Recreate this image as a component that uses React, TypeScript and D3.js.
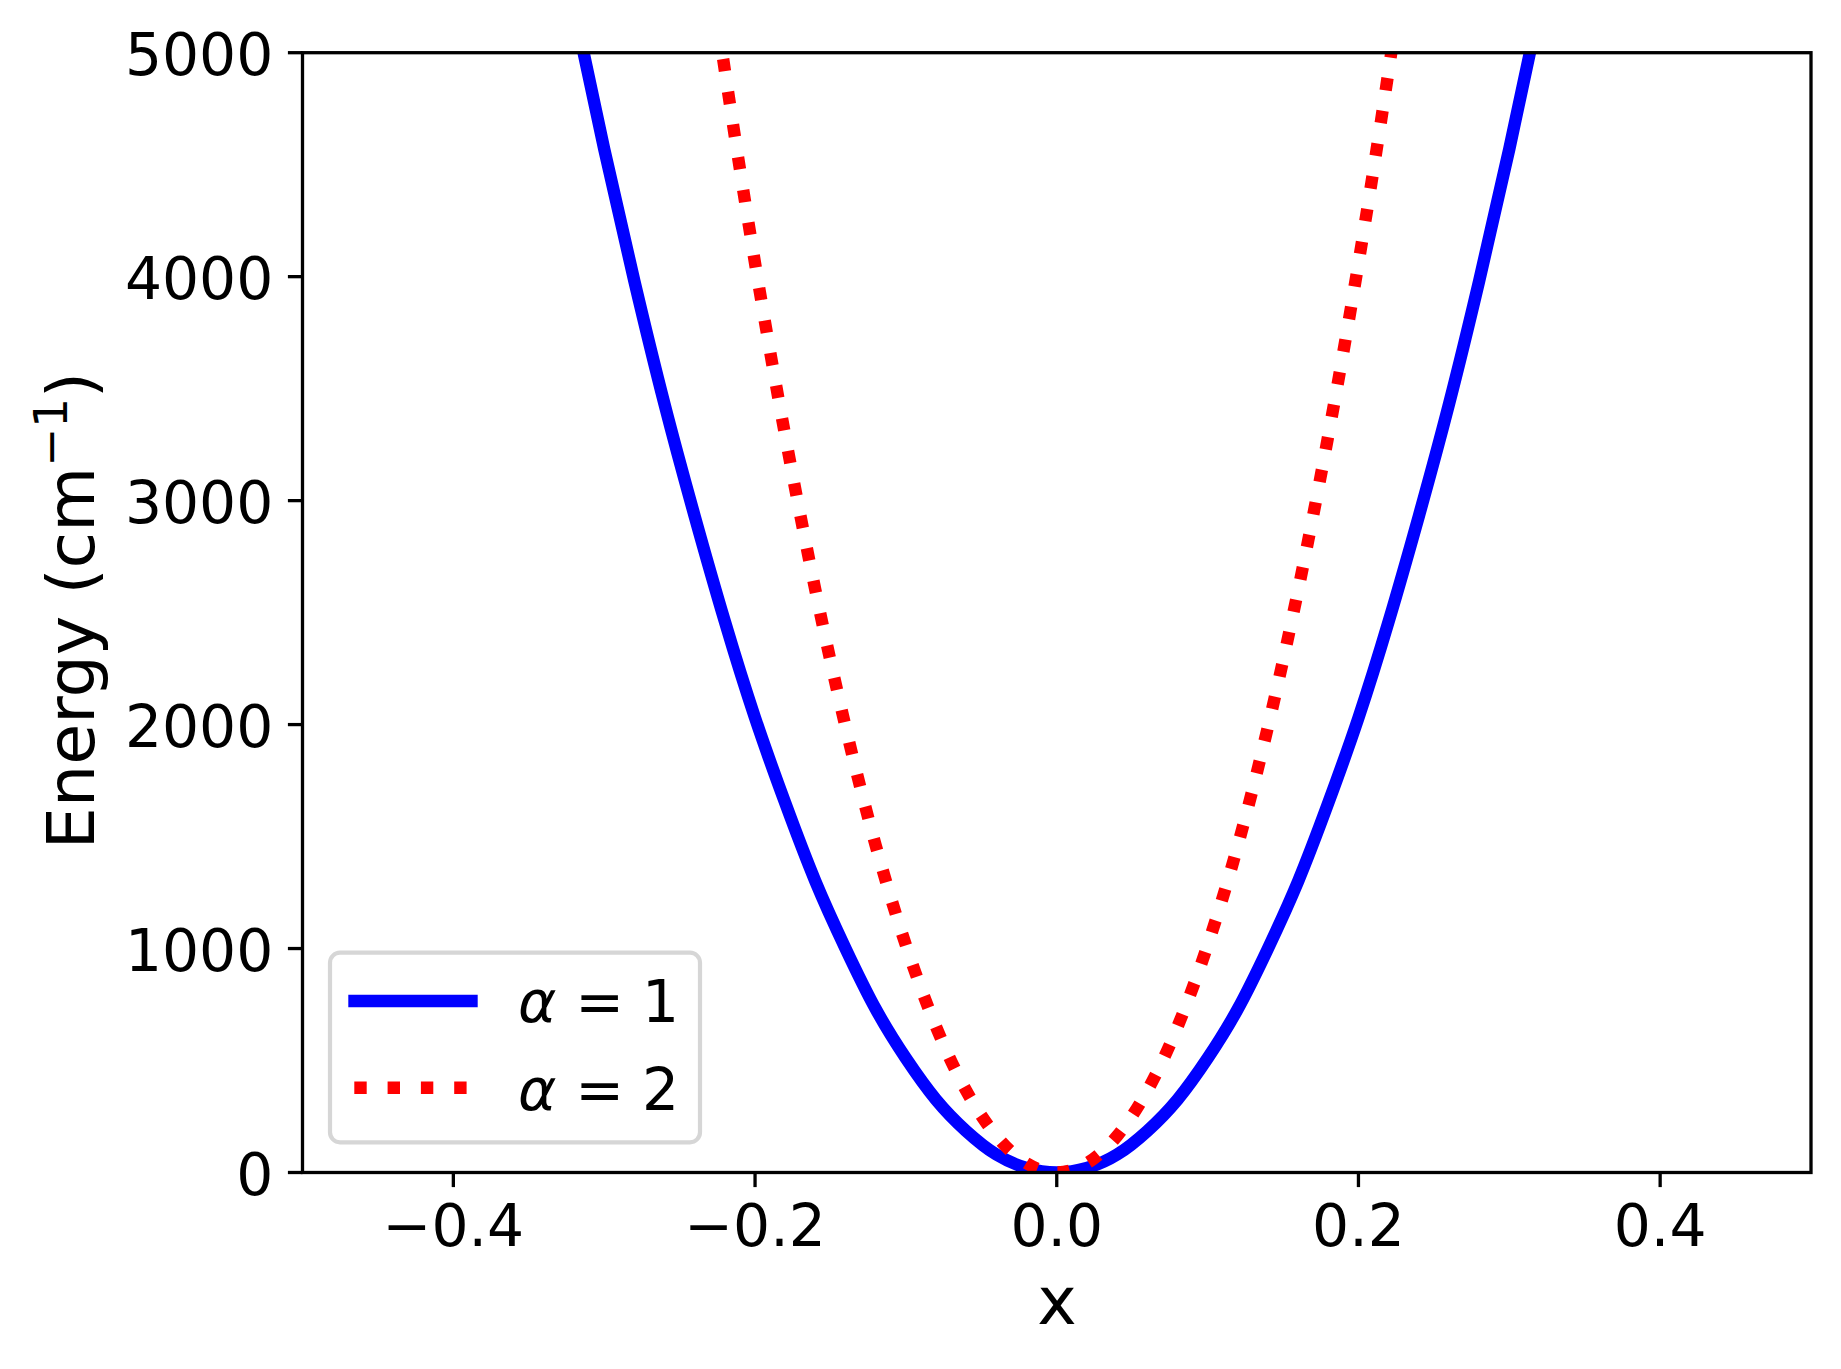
import React from "react";
import * as d3 from "d3";

// ---- data ----
const blueX = [-0.32, -0.3, -0.28, -0.26, -0.24, -0.22, -0.2, -0.18, -0.16, -0.14, -0.12, -0.1, -0.08, -0.06, -0.04, -0.02, 0,
  0.02, 0.04, 0.06, 0.08, 0.1, 0.12, 0.14, 0.16, 0.18, 0.2, 0.22, 0.24, 0.26, 0.28, 0.3, 0.32];
const blueE = [5200, 4570, 3980, 3430, 2930, 2460, 2030, 1650, 1300, 1000, 730, 510, 325, 185, 80, 20, 0,
  20, 80, 185, 325, 510, 730, 1000, 1300, 1650, 2030, 2460, 2930, 3430, 3980, 4570, 5200];
const redX = [-0.24, -0.22, -0.2, -0.18, -0.16, -0.14, -0.12, -0.1, -0.08, -0.06, -0.04, -0.02, 0,
  0.02, 0.04, 0.06, 0.08, 0.1, 0.12, 0.14, 0.16, 0.18, 0.2, 0.22, 0.24];
const redE = [5850, 4920, 4060, 3290, 2600, 1990, 1460, 1015, 650, 365, 163, 41, 0,
  41, 163, 365, 650, 1015, 1460, 1990, 2600, 3290, 4060, 4920, 5850];
const xTicks = [-0.4, -0.2, 0, 0.2, 0.4];
const yTicks = [0, 1000, 2000, 3000, 4000, 5000];
const seriesLabels = ["1", "2"];

const W = 1841, H = 1369;
const L = 302.5, R = 1811, T = 52.7, B = 1172.5;
const FS = 58.3;
const LFS = 66.7;
const FONT = "DejaVu Sans";

export default function App() {
  const x = d3.scaleLinear().domain([-0.5, 0.5]).range([L, R]);
  const y = d3.scaleLinear().domain([0, 5000]).range([B, T]);
  const line = d3.line<[number, number]>().x(d => x(d[0])).y(d => y(d[1])).curve(d3.curveNatural);
  const blue = line(blueX.map((v, i) => [v, blueE[i]] as [number, number])) || "";
  const red = line(redX.map((v, i) => [v, redE[i]] as [number, number])) || "";
  const fx = d3.format(".1f");
  const lw = 12.4;

  return (
    <svg width={W} height={H} style={{ position: "absolute", left: 0, top: 0 }} fontFamily={FONT}>
      <rect x={0} y={0} width={W} height={H} fill="white" />
      <defs>
        <clipPath id="plotclip">
          <rect x={L} y={T} width={R - L} height={B - T} />
        </clipPath>
      </defs>
      <g clipPath="url(#plotclip)">
        <path d={blue} fill="none" stroke="#0000ff" strokeWidth={lw} strokeLinecap="square" strokeLinejoin="round" />
        <path d={red} fill="none" stroke="#ff0000" strokeWidth={lw} strokeDasharray="12.4 20.7" strokeLinecap="butt" />
      </g>
      {/* spines */}
      <rect x={L} y={T} width={R - L} height={B - T} fill="none" stroke="black" strokeWidth={3.3} strokeLinejoin="miter" />
      {/* x ticks */}
      {xTicks.map(t => (
        <g key={"x" + t}>
          <line x1={x(t)} x2={x(t)} y1={B} y2={B + 14.6} stroke="black" strokeWidth={3.3} />
          <text x={x(t)} y={1245.5} fontSize={FS} textAnchor="middle">{fx(t)}</text>
        </g>
      ))}
      {/* y ticks */}
      {yTicks.map(t => (
        <g key={"y" + t}>
          <line x1={L - 14.6} x2={L} y1={y(t)} y2={y(t)} stroke="black" strokeWidth={3.3} />
          <text x={273.3} y={y(t) + 22} fontSize={FS} textAnchor="end">{String(t)}</text>
        </g>
      ))}
      {/* axis labels */}
      <text x={1057} y={1324} fontSize={LFS} textAnchor="middle">x</text>
      <text transform={`translate(94, ${(T + B) / 2 - 2}) rotate(-90)`} fontSize={LFS} textAnchor="middle">
        Energy (cm<tspan fontSize={LFS * 0.7} dy={-27}>−1</tspan><tspan dy={27}>)</tspan>
      </text>
      {/* legend */}
      <rect x={330} y={952.7} width={370} height={189.6} rx={10} ry={10} fill="white" fillOpacity={0.8} stroke="#d6d6d6" strokeWidth={4.2} />
      <line x1={354.5} x2={471.5} y1={1001} y2={1001} stroke="#0000ff" strokeWidth={lw} strokeLinecap="square" />
      <line x1={354.3} x2={471.5} y1={1087.7} y2={1087.7} stroke="#ff0000" strokeWidth={lw} strokeDasharray="12.4 20.9" strokeLinecap="butt" />
      {seriesLabels.map((s, i) => {
        const by = i === 0 ? 1021.7 : 1110;
        return (
          <g key={s}>
            <text x={518} y={by} fontSize={FS} fontStyle="italic">α</text>
            <text x={575.2} y={by} fontSize={FS}>=</text>
            <text x={641.9} y={by} fontSize={FS}>{s}</text>
          </g>
        );
      })}
    </svg>
  );
}
